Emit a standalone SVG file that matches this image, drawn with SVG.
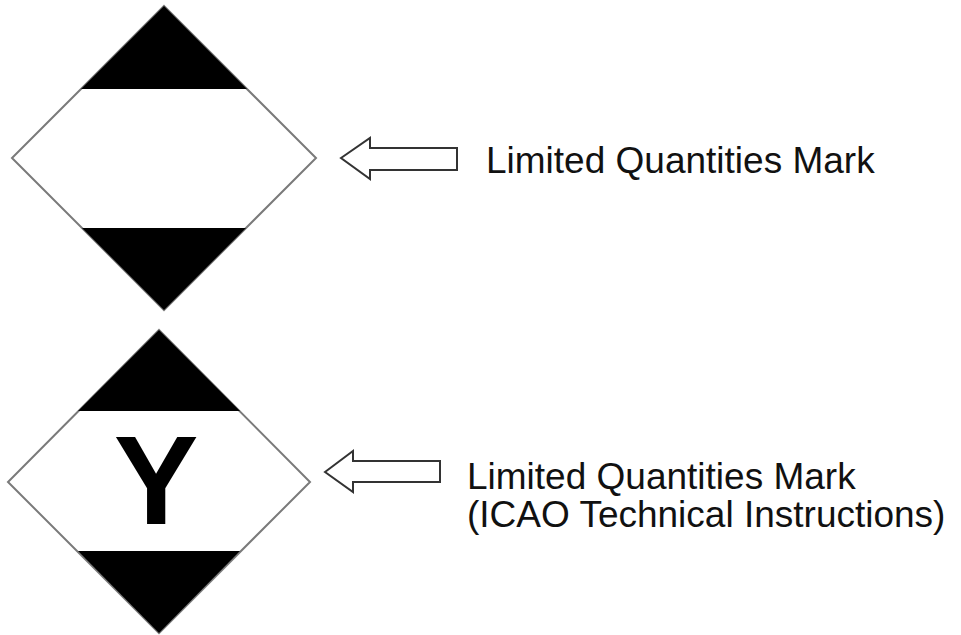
<svg xmlns="http://www.w3.org/2000/svg" width="961" height="635" viewBox="0 0 961 635">
<style>
.outline{fill:#fff;stroke:#7a7a7a;stroke-width:2}
.band{fill:#000}
.arrow{fill:#fff;stroke:#333;stroke-width:2;stroke-linejoin:miter}
.label{font-family:"Liberation Sans",Arial,sans-serif;font-size:37px;fill:#111}
</style>
<rect width="961" height="635" fill="#fff"/>
<g id="mark-lq">
<polygon class="outline" points="164,6 316,158 164,310 12,158"/>
<polygon class="band" points="164,6 247,89 81,89"/>
<polygon class="band" points="82,228 246,228 164,310"/>
</g>
<g id="mark-lq-icao">
<polygon class="outline" points="159,330 310,482 159,633 8,482"/>
<polygon class="band" points="159,330 240,411 78,411"/>
<polygon class="band" points="78,551 240,551 159,633"/>
<text x="156" y="524" text-anchor="middle" style="font-family:'Liberation Sans',Arial,sans-serif;font-weight:bold;font-size:127px;fill:#000">Y</text>
</g>
<g id="connectors">
<polygon class="arrow" points="341,158 370,138 370,148 457,148 457,170 370,170 370,179"/>
<polygon class="arrow" points="325,472 353,451 353,461 440,461 440,482 353,482 353,492"/>
</g>
<g id="label-lq">
<text class="label" x="486" y="173">Limited Quantities Mark</text>
</g>
<g id="label-lq-icao">
<text class="label" x="467" y="489">Limited Quantities Mark</text>
<text class="label" x="467" y="527">(ICAO Technical Instructions)</text>
</g>
</svg>
